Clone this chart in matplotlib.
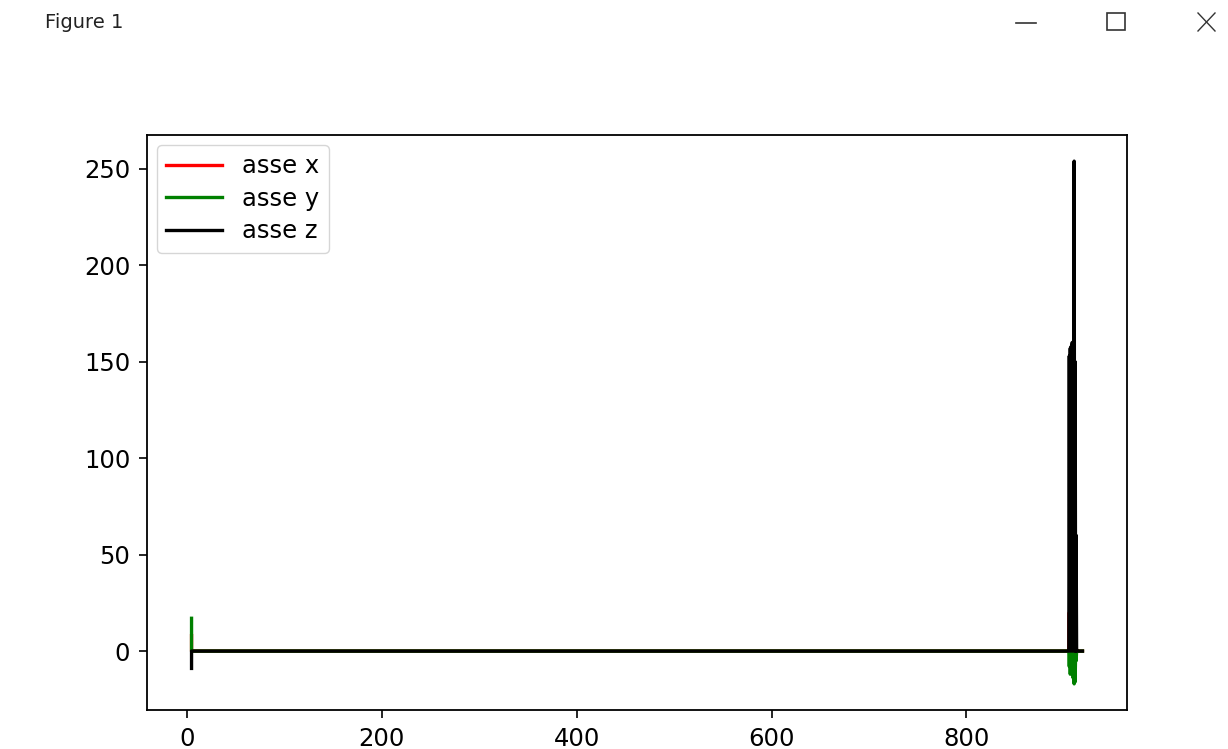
import matplotlib
matplotlib.use('Agg')
import matplotlib.pyplot as plt
from matplotlib.lines import Line2D
from matplotlib.patches import Rectangle

# sample index and readings of the three accelerometer axes
t = [5, 5, 903, 905, 905.5, 906, 906.5, 907, 907.5, 908, 908.5, 909,
     909.5, 910, 910.5, 911, 911.5, 912, 912.5, 913, 914, 919]
asse_x = [8, 0, 0, 0, 20, 0, 30, 0, 40, 0, 25, 0,
          18, 0, 10, 0, 8, 0, 3, 0, 0, 0]
asse_y = [17, 0, 0, 0, -8, 0, -12, 0, -10, 0, -11, 0,
          -14, 0, -17, 0, -16, 0, -5, 0, 0, 0]
asse_z = [-9, 0, 0, 0, 153, 2, 157, 0, 158, 3, 160, 0,
          158, 4, 254, 0, 150, 0, 60, 0, 0, 0]

W, H = 1228, 749
fig = plt.figure(figsize=(W / 100, H / 100), dpi=100)
fig.patch.set_facecolor('white')

# window title bar
fig.text(45 / W, 1 - 22 / H, 'Figure 1', fontsize=14, va='center', ha='left',
         color='#222222')
fig.add_artist(Line2D([1016 / W, 1036 / W], [1 - 23 / H, 1 - 23 / H],
                      transform=fig.transFigure, color='#333333', lw=1.2))
fig.add_artist(Rectangle((1107 / W, 1 - 30 / H), 18 / W, 17 / H,
                         transform=fig.transFigure, fill=False,
                         edgecolor='#333333', lw=1.2))
fig.add_artist(Line2D([1198 / W, 1215 / W], [1 - 13 / H, 1 - 31 / H],
                      transform=fig.transFigure, color='#333333', lw=1.0))
fig.add_artist(Line2D([1198 / W, 1215 / W], [1 - 31 / H, 1 - 13 / H],
                      transform=fig.transFigure, color='#333333', lw=1.0))

ax = fig.add_axes([147 / W, 1 - 710 / H, 980 / W, 575 / H])
ax.plot(t, asse_x, color='red', lw=2.4, label='asse x')
ax.plot(t, asse_y, color='green', lw=2.4, label='asse y')
ax.plot(t, asse_z, color='black', lw=2.4, label='asse z')

ax.set_xticks([0, 200, 400, 600, 800])
ax.set_yticks([0, 50, 100, 150, 200, 250])
ax.tick_params(labelsize=17.5, length=6, width=1.2, pad=6)
for s in ax.spines.values():
    s.set_linewidth(1.3)

ax.legend(loc='upper left', fontsize=17.5, handlelength=2.3,
          borderaxespad=0.4, labelspacing=0.35)

fig.savefig('out.png', dpi=100)
